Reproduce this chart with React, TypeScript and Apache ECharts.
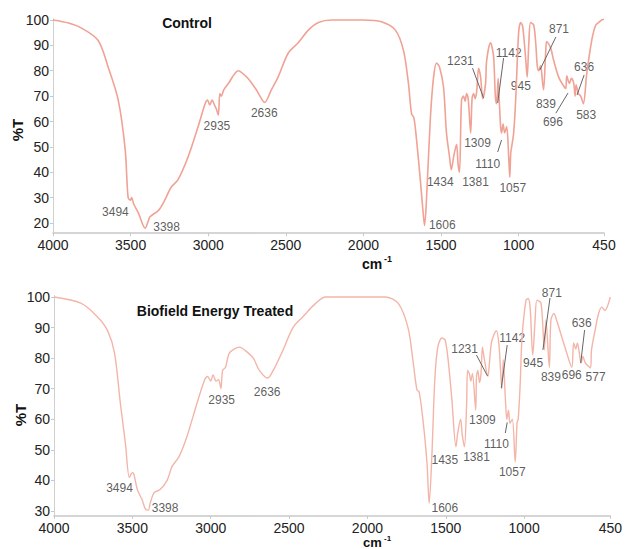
import React, { useEffect, useRef } from "react";
import * as echarts from "echarts";

const FONT = "'Liberation Sans', Arial, sans-serif";

// ---- Control spectrum (wavenumber cm-1, %T) ----
const ctrlWn = [4000, 3900, 3819, 3710, 3645, 3580, 3535, 3516, 3500, 3494, 3480, 3450, 3406, 3385, 3375, 3320, 3280, 3240, 3195, 3130, 3065, 3020, 3005, 2990, 2975, 2960, 2948, 2935, 2925, 2915, 2900, 2870, 2806, 2760, 2730, 2690, 2636, 2593, 2550, 2484, 2420, 2355, 2290, 2206, 2000, 1884, 1794, 1742, 1710, 1690, 1675, 1658, 1632, 1613, 1606, 1594, 1568, 1548, 1529, 1510, 1484, 1465, 1445, 1434, 1419, 1400, 1390, 1381, 1368, 1355, 1345, 1335, 1325, 1309, 1300, 1290, 1280, 1270, 1258, 1245, 1231, 1213, 1206, 1181, 1174, 1161, 1150, 1142, 1132, 1125, 1116, 1110, 1100, 1090, 1077, 1064, 1057, 1051, 1045, 1032, 1019, 1000, 987, 974, 955, 945, 935, 923, 903, 890, 880, 871, 859, 845, 839, 826, 819, 794, 774, 742, 710, 696, 690, 673, 660, 645, 636, 630, 615, 600, 583, 561, 529, 503, 484, 465, 450];
const ctrlT = [100, 98.8, 96.9, 92, 81.5, 68.5, 49, 30, 29, 30, 27.5, 24, 18, 21, 22.5, 25, 29, 34, 37, 46, 58, 67, 68.5, 66.5, 68.5, 66.5, 65, 62.5, 71, 70, 72.5, 75, 80, 78, 76, 72.5, 67.5, 72.5, 77.5, 87, 91, 96, 99, 100, 100, 99.3, 96, 88, 75, 63, 61.5, 53, 36, 22.5, 19, 29, 62, 77.5, 83, 81.5, 73.6, 55.5, 46, 41, 46, 51, 43, 40, 68.5, 70, 68, 71, 69, 55.5, 69, 71, 69, 72, 81, 77.5, 69, 75, 84, 91, 90, 85.5, 70, 67, 77, 68.5, 58, 55.5, 59, 55.5, 58, 46, 38, 47.5, 50, 55.5, 68.5, 95, 99, 97.5, 85, 77.5, 90, 99, 98, 91, 82, 80, 82, 75, 72.5, 87, 91.5, 89, 84, 77.5, 74, 73, 78, 75, 77, 75, 70, 74.5, 71, 70, 67, 79, 92, 98, 99, 100, 100.3];

// ---- Biofield Energy Treated spectrum ----
const trtWn = [4000, 3829, 3722, 3658, 3614, 3576, 3544, 3519, 3500, 3490, 3468, 3437, 3418, 3398, 3386, 3361, 3323, 3278, 3247, 3203, 3152, 3089, 3038, 3020, 3000, 2985, 2965, 2950, 2935, 2924, 2905, 2880, 2816, 2780, 2728, 2690, 2636, 2601, 2538, 2475, 2413, 2329, 2266, 1886, 1804, 1741, 1709, 1684, 1670, 1646, 1620, 1606, 1589, 1570, 1551, 1525, 1505, 1487, 1462, 1435, 1424, 1405, 1395, 1381, 1367, 1361, 1350, 1340, 1330, 1309, 1304, 1295, 1285, 1275, 1266, 1255, 1231, 1222, 1209, 1190, 1177, 1160, 1142, 1133, 1120, 1110, 1100, 1090, 1075, 1057, 1045, 1038, 1026, 1013, 988, 975, 962, 945, 930, 918, 892, 871, 861, 839, 829, 810, 790, 766, 734, 696, 684, 670, 660, 636, 625, 610, 577, 570, 544, 525, 505, 485, 450];
const trtT = [100, 98, 93.5, 89, 81.7, 65, 52, 41, 42.5, 42, 37, 33.6, 30.8, 30.3, 32.6, 36, 37, 40, 44.5, 47.7, 54.3, 65, 73, 74, 72.5, 74.5, 72.5, 73, 70, 76, 77, 81.7, 83.6, 82.5, 80, 76, 73.5, 76, 82.7, 90, 93.5, 98, 100, 100, 98, 90, 79, 69.6, 69, 60, 45.8, 32.5, 47.7, 73, 83.6, 86.6, 86, 80.4, 67, 51, 55.5, 60, 55, 51, 65, 76, 75, 72.5, 75, 63, 74, 76, 72, 75, 83.6, 80, 74, 78, 85, 88, 89, 84, 70, 79.5, 67, 60, 63, 58.7, 60, 46, 59, 60, 70.6, 87, 99, 99.5, 96.7, 81, 92.5, 99, 98, 82.7, 92.5, 77, 92.5, 94.6, 92, 88, 82.7, 77, 85, 83, 85, 78.4, 80.6, 78.5, 76.8, 82.7, 90, 94.6, 96.7, 95.6, 100];

// ---- Peak annotations: text, anchor wavenumber, anchor %T ----
const ctrlLabels = ["3494", "3398", "2935", "2636", "1606", "1434", "1381", "1309", "1110", "1057", "1231", "1142", "945", "871", "839", "696", "636", "583"];
const ctrlLabelWn = [3598, 3268, 2944, 2639, 1492, 1505, 1278, 1265, 1200, 1038, 1375, 1064, 986, 740, 824, 779, 578, 565];
const ctrlLabelT = [24.3, 18.4, 58.2, 63.3, 19.2, 36, 36.2, 51.5, 43.3, 33.8, 84, 87, 74, 96.4, 67, 60, 81.5, 62.6];
// leader lines: [wn1, T1, wn2, T2]
const ctrlLeaders = [
  [1297, 81, 1226, 69.3],
  [1097, 85, 1135, 67.3],
  [1135, 48, 1110, 52.7],
  [760, 93.3, 863, 80.3],
  [760, 63.3, 682, 71.2],
  [578, 78.3, 624, 70.4],
];

const trtLabels = ["3494", "3398", "2935", "2636", "1606", "1435", "1381", "1309", "1110", "1057", "1231", "1142", "945", "871", "839", "696", "577", "636"];
const trtLabelWn = [3582, 3291, 2930, 2640, 1506, 1506, 1304, 1266, 1177, 1076, 1380, 1076, 943, 823, 829, 696, 544, 633];
const trtLabelT = [37.5, 31, 66.3, 69, 31, 46.7, 47.7, 59.8, 52, 42.8, 83, 86.6, 78.4, 101.3, 73.8, 74.5, 73.8, 91.5];
const trtLeaders = [
  [1304, 81, 1234, 74.2],
  [1108, 84.3, 1146, 70.2],
  [1120, 55.5, 1108, 59],
  [835, 99.7, 880, 82.7],
  [614, 89.2, 639, 78.4],
];

const xTicks = [4000, 3500, 3000, 2500, 2000, 1500, 1000, 450];
const yTicksCtrl = [20, 30, 40, 50, 60, 70, 80, 90, 100];
const yTicksTrt = [30, 40, 50, 60, 70, 80, 90, 100];

const zip = (a: number[], b: number[]) => a.map((v, i) => [v, b[i]]);

function annotSeries(idx: number, labels: string[], wn: number[], t: number[], leaders: number[][]) {
  return {
    type: "scatter",
    xAxisIndex: idx,
    yAxisIndex: idx,
    clip: false,
    symbol: "circle",
    symbolSize: 1,
    itemStyle: { color: "rgba(0,0,0,0)" },
    silent: true,
    data: labels.map((s, i) => ({ name: s, value: [wn[i], t[i]] })),
    label: {
      show: true,
      position: "inside",
      formatter: "{b}",
      color: "#333",
      fontSize: 12,
      fontFamily: FONT,
    },
    markLine: {
      silent: true,
      symbol: ["none", "none"],
      label: { show: false },
      lineStyle: { color: "#666", width: 1, type: "solid" },
      data: leaders.map((l) => [{ coord: [l[0], l[1]] }, { coord: [l[2], l[3]] }]),
    },
  };
}

function xAxis(idx: number) {
  return {
    type: "value",
    gridIndex: idx,
    inverse: true,
    min: 450,
    max: 4000,
    axisLine: { show: true, onZero: false, lineStyle: { color: "#c8c8c8", width: 1.5 } },
    axisTick: { show: true, customValues: xTicks, length: 3, lineStyle: { color: "#c8c8c8" } },
    axisLabel: {
      customValues: xTicks,
      formatter: (v: number) => String(v),
      color: "#222",
      fontSize: 14,
      fontFamily: FONT,
      margin: 5,
    },
    splitLine: { show: false },
  };
}

function yAxis(idx: number, min: number, ticks: number[]) {
  return {
    type: "value",
    gridIndex: idx,
    min,
    max: 100.5,
    axisLine: { show: true, onZero: false, lineStyle: { color: "#d0d0d0", width: 1 } },
    axisTick: { show: true, customValues: ticks, length: 3, lineStyle: { color: "#c8c8c8" } },
    axisLabel: {
      customValues: ticks,
      formatter: (v: number) => String(v),
      color: "#222",
      fontSize: 14,
      fontFamily: FONT,
      margin: 4,
    },
    splitLine: { show: false },
  };
}

export default function App() {
  const ref = useRef<HTMLDivElement>(null);
  useEffect(() => {
    document.body.style.margin = "0";
    const chart = echarts.init(ref.current!, null, { renderer: "svg" });
    chart.setOption({
      animation: false,
      backgroundColor: "#fff",
      grid: [
        { left: 53, top: 18.7, width: 551, height: 214.5 },
        { left: 54, top: 295.5, width: 561, height: 220.4 },
      ],
      xAxis: [xAxis(0), xAxis(1)],
      yAxis: [yAxis(0, 16, yTicksCtrl), yAxis(1, 28.4, yTicksTrt)],
      series: [
        {
          type: "line",
          xAxisIndex: 0,
          yAxisIndex: 0,
          data: zip(ctrlWn, ctrlT),
          showSymbol: false,
          smooth: 0.3,
          lineStyle: { color: "#f0a295", width: 1.6 },
          silent: true,
        },
        {
          type: "line",
          xAxisIndex: 1,
          yAxisIndex: 1,
          data: zip(trtWn, trtT),
          showSymbol: false,
          smooth: 0.3,
          lineStyle: { color: "#f3b5a8", width: 1.4 },
          silent: true,
        },
        annotSeries(0, ctrlLabels, ctrlLabelWn, ctrlLabelT, ctrlLeaders),
        annotSeries(1, trtLabels, trtLabelWn, trtLabelT, trtLeaders),
      ],
      graphic: [
        { type: "text", x: 187, y: 23, style: { text: "Control", font: `bold 14px ${FONT}`, fill: "#111", textAlign: "center", textVerticalAlign: "middle" } },
        { type: "text", x: 215, y: 311, style: { text: "Biofield Energy Treated", font: `bold 14px ${FONT}`, fill: "#111", textAlign: "center", textVerticalAlign: "middle" } },
        { type: "text", x: 17, y: 130, rotation: Math.PI / 2, style: { text: "%T", font: `bold 15px ${FONT}`, fill: "#111", textAlign: "center", textVerticalAlign: "middle" } },
        { type: "text", x: 20, y: 415, rotation: Math.PI / 2, style: { text: "%T", font: `bold 15px ${FONT}`, fill: "#111", textAlign: "center", textVerticalAlign: "middle" } },
        { type: "text", x: 362, y: 264, style: { text: "cm", font: `bold 14px ${FONT}`, fill: "#111", textAlign: "left", textVerticalAlign: "middle" } },
        { type: "text", x: 384, y: 259, style: { text: "-1", font: `bold 9px ${FONT}`, fill: "#111", textAlign: "left", textVerticalAlign: "middle" } },
        { type: "text", x: 363, y: 542.5, style: { text: "cm", font: `bold 13px ${FONT}`, fill: "#111", textAlign: "left", textVerticalAlign: "middle" } },
        { type: "text", x: 384, y: 538.5, style: { text: "-1", font: `bold 8px ${FONT}`, fill: "#111", textAlign: "left", textVerticalAlign: "middle" } },
      ],
    });
    return () => chart.dispose();
  }, []);
  return <div ref={ref} style={{ width: 625, height: 549 }} />;
}
